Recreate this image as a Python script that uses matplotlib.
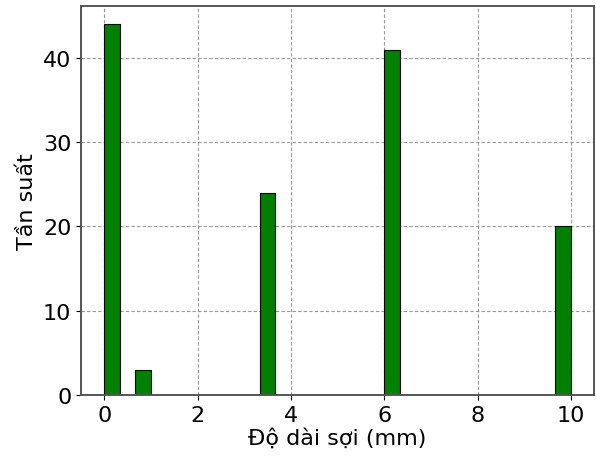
import matplotlib
matplotlib.use("Agg")
import matplotlib.pyplot as plt

# fibre lengths (mm) and how many times each was measured
lengths = [0.0, 0.8, 3.5, 6.0, 10.0]
counts = [44, 3, 24, 41, 20]

N_BINS = 30
BIN_RANGE = (0, 10)

fig = plt.figure(figsize=(5.96, 4.64), dpi=100)
ax = fig.add_axes([0.136, 0.147, 0.861, 0.838])

ax.hist(lengths, bins=N_BINS, range=BIN_RANGE, weights=counts,
        color="green", edgecolor="black", linewidth=0.8, zorder=2)

ax.set_xticks([0, 2, 4, 6, 8, 10])
ax.set_yticks([0, 10, 20, 30, 40])
ax.tick_params(labelsize=16)
ax.set_xlabel("Độ dài sợi (mm)", fontsize=16, labelpad=2)
ax.set_ylabel("Tần suất", fontsize=16)

ax.grid(True, linestyle=(0, (3, 2)), color="gray", alpha=0.8, linewidth=0.8, zorder=0)
ax.set_axisbelow(True)
for spine in ax.spines.values():
    spine.set_color("#555555")
    spine.set_linewidth(1.4)

fig.savefig("out.png", dpi=100)
